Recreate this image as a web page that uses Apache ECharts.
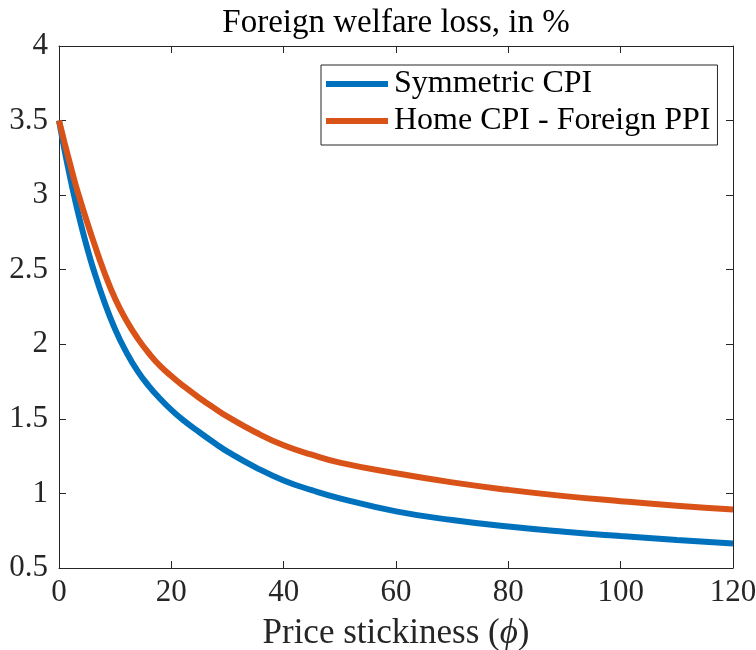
<!DOCTYPE html>
<html>
<head>
<meta charset="utf-8">
<script src="https://cdn.jsdelivr.net/npm/echarts@6/dist/echarts.min.js"></script>
<style>
  html, body { margin: 0; padding: 0; background: #ffffff; }
  #chart { width: 756px; height: 650px; }
</style>
</head>
<body>
<div id="chart"></div>
<script>
// ---- data ----
const phi = [0, 1, 2, 3, 4, 5, 6, 8, 10, 12, 14, 16, 18, 20, 22, 25, 28, 30, 35, 40, 45, 50, 60, 70, 80, 90, 100, 110, 120];
const symmetricCPI = [3.50, 3.30, 3.115, 2.945, 2.79, 2.648, 2.518, 2.292, 2.10, 1.946, 1.82, 1.72, 1.635, 1.56, 1.495, 1.41, 1.33, 1.28, 1.175, 1.087, 1.022, 0.967, 0.88, 0.822, 0.778, 0.743, 0.714, 0.688, 0.665];
const homeCPIForeignPPI = [3.50, 3.35, 3.205, 3.065, 2.94, 2.82, 2.705, 2.49, 2.305, 2.16, 2.04, 1.94, 1.855, 1.787, 1.725, 1.64, 1.563, 1.515, 1.41, 1.323, 1.26, 1.207, 1.135, 1.074, 1.024, 0.982, 0.948, 0.918, 0.893];
const seriesNames = ['Symmetric CPI', 'Home CPI - Foreign PPI'];
const xTicks = { min: 0, max: 120, interval: 20 };
const yTicks = { min: 0.5, max: 4, interval: 0.5 };
const titleText = 'Foreign welfare loss, in %';
const xLabel = 'Price stickiness (';

const FONT = '"Liberation Serif", "DejaVu Serif", serif';
const AX = '#262626';

const pair = (xs, ys) => xs.map((x, i) => [x, ys[i]]);

const chart = echarts.init(document.getElementById('chart'), null, { renderer: 'canvas' });

const axisCommon = {
  type: 'value',
  axisLine: { show: true, onZero: false, lineStyle: { color: AX, width: 1 } },
  axisTick: { show: true, inside: true, length: 7, lineStyle: { color: AX, width: 1 } },
  splitLine: { show: false }
};

chart.setOption({
  animation: false,
  backgroundColor: '#ffffff',
  title: {
    text: titleText,
    left: 396,
    top: 7,
    padding: 0,
    textAlign: 'center',
    textStyle: { fontFamily: FONT, fontSize: 33, fontWeight: 'normal', color: '#000' }
  },
  grid: { left: 59, right: 23, top: 46, bottom: 82, containLabel: false, outerBoundsMode: 'none' },
  legend: {
    data: seriesNames,
    orient: 'vertical',
    left: 321,
    top: 65,
    padding: [3, 7, 8, 5],
    itemGap: 5,
    itemWidth: 62,
    itemHeight: 6,
    icon: 'rect',
    borderColor: AX,
    borderWidth: 1,
    backgroundColor: '#ffffff',
    textStyle: { fontFamily: FONT, fontSize: 32, color: '#000', lineHeight: 30, padding: [0, 0, 0, 1] }
  },
  xAxis: [
    Object.assign({}, axisCommon, {
      position: 'bottom',
      min: xTicks.min, max: xTicks.max, interval: xTicks.interval,
      axisLabel: { show: true, margin: 9, fontFamily: FONT, fontSize: 31, color: AX },
      name: '{a|' + xLabel + '}{b|ϕ}{a|)}',
      nameLocation: 'middle',
      nameGap: 48,
      nameTextStyle: {
        rich: {
          a: { fontFamily: FONT, fontSize: 35, color: AX },
          b: { fontFamily: FONT, fontSize: 35, fontStyle: 'italic', color: AX }
        }
      }
    }),
    Object.assign({}, axisCommon, {
      position: 'top',
      min: xTicks.min, max: xTicks.max, interval: xTicks.interval,
      axisLabel: { show: false }
    })
  ],
  yAxis: [
    Object.assign({}, axisCommon, {
      position: 'left',
      min: yTicks.min, max: yTicks.max, interval: yTicks.interval,
      axisLabel: { show: true, margin: 11, fontFamily: FONT, fontSize: 31, color: AX }
    }),
    Object.assign({}, axisCommon, {
      position: 'right',
      min: yTicks.min, max: yTicks.max, interval: yTicks.interval,
      axisLabel: { show: false }
    })
  ],
  series: [
    {
      name: seriesNames[0],
      type: 'line',
      xAxisIndex: 0, yAxisIndex: 0,
      data: pair(phi, symmetricCPI),
      smooth: 0.5,
      showSymbol: false,
      color: '#0072BD',
      lineStyle: { width: 6, color: '#0072BD' },
      z: 2
    },
    {
      name: seriesNames[1],
      type: 'line',
      xAxisIndex: 0, yAxisIndex: 0,
      data: pair(phi, homeCPIForeignPPI),
      smooth: 0.5,
      showSymbol: false,
      color: '#D95319',
      lineStyle: { width: 6, color: '#D95319' },
      z: 3
    }
  ]
});
</script>
</body>
</html>
